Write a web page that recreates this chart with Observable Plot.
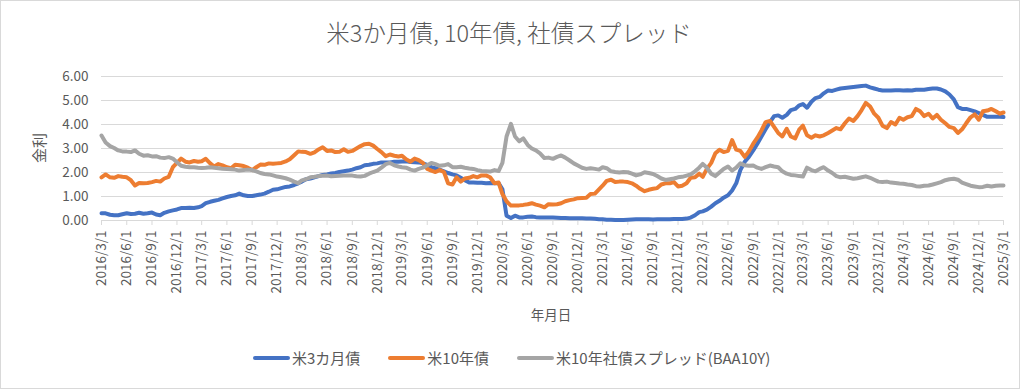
<!DOCTYPE html>
<html><head><meta charset="utf-8">
<script src="https://cdn.jsdelivr.net/npm/d3@7"></script>
<script src="https://cdn.jsdelivr.net/npm/@observablehq/plot@0.6"></script>
<style>
body{margin:0;background:#fff;}
#chart{position:relative;width:1024px;height:390px;font-family:"Noto Sans CJK JP","Noto Sans",sans-serif;color:#595959;overflow:hidden;background:#fff;}
#frame{position:absolute;left:0;top:0;width:1020px;height:389px;border:1px solid #d9d9d9;box-sizing:border-box;pointer-events:none;}
#title{position:absolute;left:0;width:1018px;top:17px;text-align:center;font-size:23.5px;font-weight:300;line-height:30px;white-space:nowrap;}
#plot{position:absolute;left:0;top:0;}
#ylab{position:absolute;left:38px;top:148px;transform:translate(-50%,-50%) rotate(-90deg);font-size:15px;white-space:nowrap;}
#xlab{position:absolute;left:551px;top:314px;transform:translate(-50%,-50%);font-size:13.5px;white-space:nowrap;}
#legend{position:absolute;left:253px;top:349px;display:flex;align-items:center;font-size:15px;white-space:nowrap;line-height:18px;}
.item{display:flex;align-items:center;margin-right:28px;}
.sw{width:37px;height:4px;margin-right:2px;border-radius:2px;}
</style>
</head><body>
<div id="chart">
  <div id="title"></div>
  <div id="plot"></div>
  <div id="ylab"></div>
  <div id="xlab"></div>
  <div id="legend"></div>
  <div id="frame"></div>
</div>
<script>
const titleText = "米3か月債, 10年債, 社債スプレッド";
const yLabel = "金利";
const xLabel = "年月日";
const seriesNames = ["米3カ月債", "米10年債", "米10年社債スプレッド(BAA10Y)"];
const seriesColors = ["#4472C4", "#ED7D31", "#A5A5A5"];
const yTicks = [0, 1, 2, 3, 4, 5, 6];

// semi-monthly observations (1st and 16th of each month), 2016/3/1 .. 2025/3/1
const bill3m = [
  // 2016 Mar-Dec
  0.30,0.30,0.24,0.22,0.22,0.26,0.30,0.27,0.28,0.32,0.28,0.30,0.33,0.25,0.22,0.32,0.38,0.42,0.46,0.52,
  // 2017
  0.52,0.53,0.52,0.55,0.60,0.72,0.78,0.82,0.86,0.92,0.98,1.02,1.05,1.12,1.05,1.02,1.02,1.05,1.08,1.12,1.20,1.28,1.30,1.35,
  // 2018
  1.40,1.42,1.48,1.55,1.62,1.72,1.75,1.80,1.85,1.90,1.92,1.96,1.98,2.02,2.05,2.08,2.12,2.18,2.22,2.30,2.32,2.36,2.38,2.42,
  // 2019
  2.42,2.42,2.45,2.45,2.46,2.47,2.44,2.43,2.42,2.38,2.32,2.22,2.18,2.12,2.05,1.98,1.92,1.88,1.78,1.68,1.58,1.58,1.57,1.57,
  // 2020
  1.55,1.56,1.55,1.56,1.30,0.20,0.10,0.20,0.13,0.13,0.16,0.17,0.14,0.13,0.12,0.12,0.12,0.11,0.10,0.10,0.09,0.09,0.09,0.09,
  // 2021
  0.08,0.08,0.07,0.05,0.05,0.03,0.03,0.02,0.02,0.02,0.03,0.04,0.05,0.05,0.05,0.05,0.04,0.05,0.05,0.05,0.05,0.06,0.06,0.06,
  // 2022
  0.08,0.12,0.22,0.35,0.38,0.45,0.58,0.72,0.82,0.95,1.05,1.25,1.55,2.10,2.45,2.65,2.92,3.20,3.50,3.80,4.10,4.35,4.38,4.28,
  // 2023
  4.40,4.60,4.65,4.80,4.85,4.70,4.95,5.10,5.15,5.30,5.42,5.40,5.45,5.50,5.52,5.54,5.56,5.58,5.60,5.62,5.55,5.50,5.45,5.42,
  // 2024
  5.42,5.42,5.43,5.43,5.42,5.43,5.42,5.45,5.45,5.45,5.48,5.50,5.50,5.46,5.38,5.25,5.05,4.72,4.65,4.65,4.60,4.55,4.48,4.40,
  // 2025 Jan-Mar1
  4.32,4.32,4.32,4.32,4.31
];
const t10y = [
  // 2016 Mar-Dec
  1.80,1.92,1.80,1.78,1.85,1.82,1.80,1.68,1.46,1.56,1.55,1.56,1.60,1.65,1.62,1.75,1.82,2.22,2.40,2.58,
  // 2017
  2.45,2.42,2.48,2.45,2.47,2.57,2.38,2.25,2.35,2.30,2.22,2.18,2.32,2.30,2.27,2.20,2.10,2.22,2.33,2.32,2.38,2.36,2.38,2.40,
  // 2018
  2.46,2.55,2.72,2.88,2.86,2.85,2.78,2.84,2.96,3.05,2.90,2.92,2.85,2.86,2.97,2.86,2.90,3.00,3.10,3.18,3.20,3.12,2.98,2.85,
  // 2019
  2.68,2.75,2.70,2.67,2.70,2.55,2.45,2.58,2.52,2.40,2.15,2.08,2.02,2.10,2.02,1.55,1.50,1.80,1.62,1.75,1.78,1.85,1.80,1.88,
  // 2020
  1.88,1.80,1.55,1.58,1.10,0.80,0.62,0.63,0.63,0.65,0.68,0.72,0.66,0.62,0.55,0.68,0.67,0.68,0.72,0.80,0.85,0.88,0.93,0.94,
  // 2021
  0.95,1.10,1.12,1.30,1.45,1.65,1.70,1.60,1.62,1.62,1.60,1.55,1.45,1.32,1.22,1.28,1.32,1.35,1.50,1.55,1.55,1.60,1.42,1.45,
  // 2022
  1.55,1.78,1.80,1.95,1.82,2.15,2.40,2.80,2.95,2.85,2.90,3.35,2.95,2.90,2.65,2.88,3.20,3.45,3.75,4.10,4.15,3.90,3.65,3.50,
  // 2023
  3.82,3.50,3.42,3.80,3.95,3.55,3.45,3.55,3.50,3.55,3.65,3.75,3.85,3.80,4.05,4.25,4.15,4.35,4.60,4.90,4.75,4.45,4.28,3.95,
  // 2024
  3.85,4.10,4.00,4.28,4.20,4.30,4.35,4.65,4.55,4.35,4.45,4.25,4.40,4.20,4.05,3.90,3.85,3.65,3.80,4.05,4.30,4.42,4.20,4.55,
  // 2025 Jan-Mar1
  4.58,4.65,4.55,4.45,4.50
];
const baa10y = [
  // 2016 Mar-Dec
  3.54,3.25,3.10,3.02,2.92,2.88,2.87,2.85,2.92,2.78,2.70,2.72,2.67,2.68,2.62,2.60,2.64,2.58,2.43,2.28,
  // 2017
  2.24,2.22,2.22,2.20,2.19,2.20,2.22,2.20,2.18,2.16,2.15,2.14,2.12,2.08,2.10,2.12,2.10,2.05,1.98,1.94,1.92,1.88,1.83,1.80,
  // 2018
  1.76,1.70,1.62,1.56,1.67,1.72,1.80,1.82,1.85,1.86,1.87,1.84,1.85,1.86,1.87,1.88,1.87,1.84,1.83,1.86,1.95,2.02,2.08,2.20,
  // 2019
  2.35,2.40,2.30,2.25,2.22,2.20,2.12,2.08,2.15,2.20,2.30,2.40,2.35,2.28,2.30,2.35,2.22,2.22,2.24,2.20,2.17,2.15,2.10,2.06,
  // 2020
  2.05,2.04,2.10,2.06,2.40,3.50,4.03,3.50,3.30,3.42,3.15,3.00,2.92,2.80,2.60,2.62,2.57,2.65,2.71,2.62,2.50,2.38,2.29,2.20,
  // 2021
  2.15,2.18,2.15,2.12,2.22,2.18,2.05,2.02,2.00,2.02,2.01,1.95,1.88,1.92,2.01,1.98,1.94,1.85,1.75,1.69,1.72,1.75,1.80,1.82,
  // 2022
  1.87,1.92,2.05,2.20,2.36,2.20,1.95,1.85,2.00,2.15,2.25,2.08,2.20,2.38,2.30,2.28,2.29,2.20,2.15,2.22,2.29,2.25,2.22,2.05,
  // 2023
  1.95,1.90,1.88,1.85,1.83,2.20,2.10,2.05,2.15,2.22,2.08,1.98,1.85,1.80,1.82,1.78,1.74,1.76,1.80,1.84,1.78,1.70,1.62,1.60,
  // 2024
  1.62,1.58,1.56,1.54,1.53,1.50,1.48,1.43,1.42,1.45,1.46,1.50,1.55,1.60,1.68,1.72,1.74,1.70,1.58,1.52,1.45,1.42,1.39,1.40,
  // 2025 Jan-Mar1
  1.45,1.42,1.45,1.46,1.46
];

const start = new Date(Date.UTC(2016, 2, 1));
const end = new Date(Date.UTC(2025, 2, 1));
const dates = [];
for (const m of d3.utcMonths(start, new Date(Date.UTC(2025, 2, 2)))) {
  dates.push(m);
  dates.push(d3.utcDay.offset(m, 15));
}
dates.length = bill3m.length;

const seriesValues = [bill3m, t10y, baa10y];
const rows = [];
seriesValues.forEach((vals, i) => vals.forEach((v, j) => rows.push({date: dates[j], value: v, series: seriesNames[i]})));

const xTicks = d3.utcMonths(start, new Date(Date.UTC(2025, 2, 2)), 3);
const fmt = d => `${d.getUTCFullYear()}/${d.getUTCMonth() + 1}/${d.getUTCDate()}`;

const chart = Plot.plot({
  width: 1024,
  height: 390,
  marginLeft: 101,
  marginRight: 21,
  marginTop: 76,
  marginBottom: 170,
  style: {fontFamily: '"Noto Sans CJK JP","Noto Sans",sans-serif', fontSize: "13px", color: "#595959", background: "transparent"},
  x: {type: "utc", domain: [start, end]},
  y: {domain: [0, 6]},
  color: {domain: seriesNames, range: seriesColors},
  marks: [
    Plot.gridY(yTicks.filter(d => d > 0), {stroke: "#d9d9d9", strokeOpacity: 1, strokeWidth: 1}),
    Plot.ruleY([0], {stroke: "#d9d9d9", strokeWidth: 1}),
    Plot.axisY({ticks: yTicks, tickFormat: d => d.toFixed(2), tickSize: 0, tickPadding: 13, label: null, color: "#595959", fontSize: 13.5}),
    Plot.axisX({ticks: xTicks, tickFormat: fmt, tickRotate: -90, tickSize: 5, tickPadding: 5, label: null, stroke: "#d9d9d9", color: "#595959", fontSize: 13.5}),
    Plot.lineY(rows, {x: "date", y: "value", z: "series", stroke: "series", strokeWidth: 4, strokeLinejoin: "round", strokeLinecap: "round"})
  ]
});
document.getElementById("plot").appendChild(chart);
document.getElementById("title").textContent = titleText;
document.getElementById("ylab").textContent = yLabel;
document.getElementById("xlab").textContent = xLabel;
const legend = document.getElementById("legend");
seriesNames.forEach((name, i) => {
  const it = document.createElement("div");
  it.className = "item";
  const sw = document.createElement("div");
  sw.className = "sw";
  sw.style.background = seriesColors[i];
  const tx = document.createElement("span");
  tx.textContent = name;
  it.appendChild(sw); it.appendChild(tx);
  legend.appendChild(it);
});
</script>
</body></html>
